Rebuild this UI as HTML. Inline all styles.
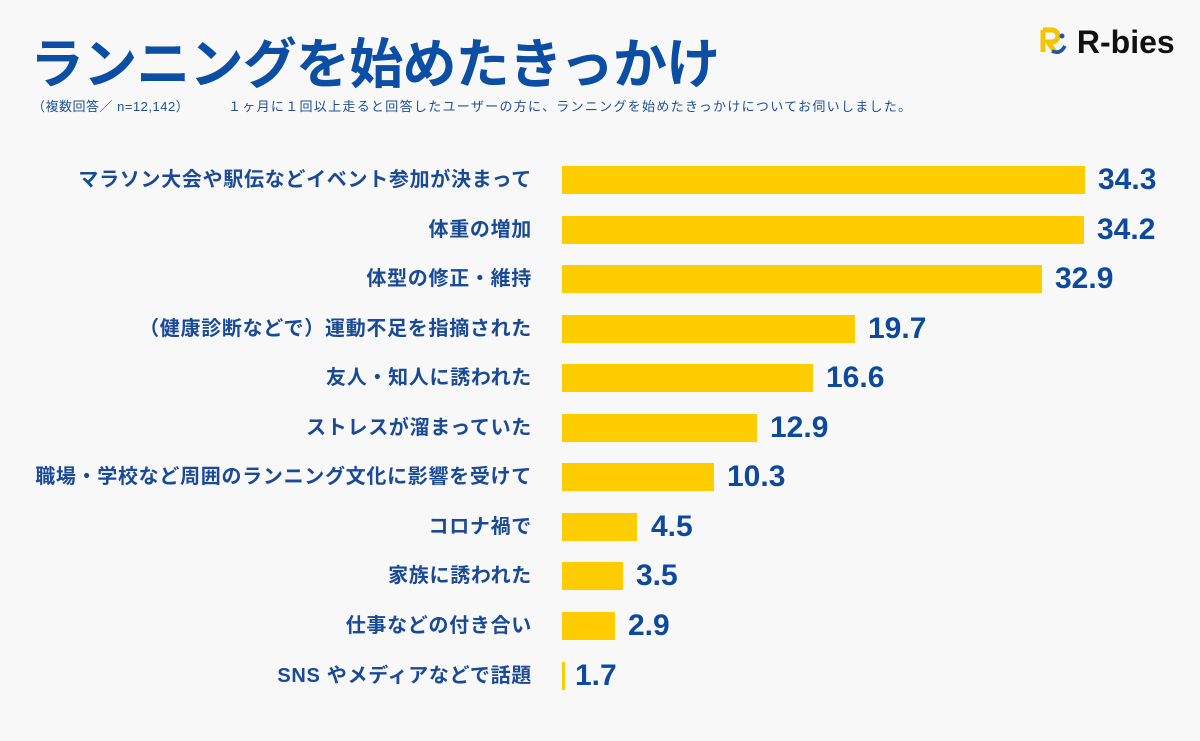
<!DOCTYPE html>
<html><head><meta charset="utf-8"><style>
body{margin:0;width:1200px;height:741px;background:#f8f8f8;position:relative;overflow:hidden;font-family:"Liberation Sans","Noto Sans CJK JP",sans-serif;color:#0c4ea2}
.t{position:absolute;left:30px;top:20px;font-size:54px;font-weight:bold;letter-spacing:-0.8px;white-space:nowrap;color:#0b4ea4}
.s{position:absolute;top:96px;font-size:13px;white-space:nowrap;color:#1e4f96}
.lab{position:absolute;right:668px;font-size:20px;letter-spacing:0.7px;font-weight:bold;white-space:nowrap;color:#1a4a96;line-height:28px}
.bar{position:absolute;left:562px;height:28px;background:#ffcc00}
.v{position:absolute;font-size:30px;font-weight:bold;line-height:28px;color:#0d4a9e}
.logo{position:absolute;left:1040px;top:24px;font-size:32px;font-weight:bold;color:#111;white-space:nowrap}
</style></head><body>
<div class="t">ランニングを始めたきっかけ</div>
<div class="s" style="left:32px;letter-spacing:0.5px">（複数回答／ n=12,142）</div>
<div class="s" style="left:228px;letter-spacing:1.3px">１ヶ月に１回以上走ると回答したユーザーの方に、ランニングを始めたきっかけについてお伺いしました。</div>
<div class="logo"><svg width="28" height="30" viewBox="0 0 28 30" style="vertical-align:-4px"><path d="M3 3h9a6 6 0 0 1 0 12h-4l7 10" stroke="#f5c400" stroke-width="5" fill="none"/><path d="M3 3v22" stroke="#f5c400" stroke-width="5"/><circle cx="22" cy="9" r="2.5" fill="#1b55b0"/><path d="M12 24q8 4 13-5" stroke="#1b55b0" stroke-width="3.5" fill="none"/></svg> R-bies</div>
<div class="lab" style="top:166px">マラソン大会や駅伝などイベント参加が決まって</div>
<div class="bar" style="top:166px;width:523px"></div><div class="v" style="top:166px;left:1098px">34.3</div>
<div class="lab" style="top:216px">体重の増加</div>
<div class="bar" style="top:216px;width:522px"></div><div class="v" style="top:216px;left:1097px">34.2</div>
<div class="lab" style="top:265px">体型の修正・維持</div>
<div class="bar" style="top:265px;width:480px"></div><div class="v" style="top:265px;left:1055px">32.9</div>
<div class="lab" style="top:315px">（健康診断などで）運動不足を指摘された</div>
<div class="bar" style="top:315px;width:293px"></div><div class="v" style="top:315px;left:868px">19.7</div>
<div class="lab" style="top:364px">友人・知人に誘われた</div>
<div class="bar" style="top:364px;width:251px"></div><div class="v" style="top:364px;left:826px">16.6</div>
<div class="lab" style="top:414px">ストレスが溜まっていた</div>
<div class="bar" style="top:414px;width:195px"></div><div class="v" style="top:414px;left:770px">12.9</div>
<div class="lab" style="top:463px">職場・学校など周囲のランニング文化に影響を受けて</div>
<div class="bar" style="top:463px;width:152px"></div><div class="v" style="top:463px;left:727px">10.3</div>
<div class="lab" style="top:513px">コロナ禍で</div>
<div class="bar" style="top:513px;width:75px"></div><div class="v" style="top:513px;left:651px">4.5</div>
<div class="lab" style="top:562px">家族に誘われた</div>
<div class="bar" style="top:562px;width:61px"></div><div class="v" style="top:562px;left:636px">3.5</div>
<div class="lab" style="top:612px">仕事などの付き合い</div>
<div class="bar" style="top:612px;width:53px"></div><div class="v" style="top:612px;left:628px">2.9</div>
<div class="lab" style="top:662px">SNS やメディアなどで話題</div>
<div class="bar" style="top:662px;width:3px"></div><div class="v" style="top:662px;left:575px">1.7</div>
</body></html>
